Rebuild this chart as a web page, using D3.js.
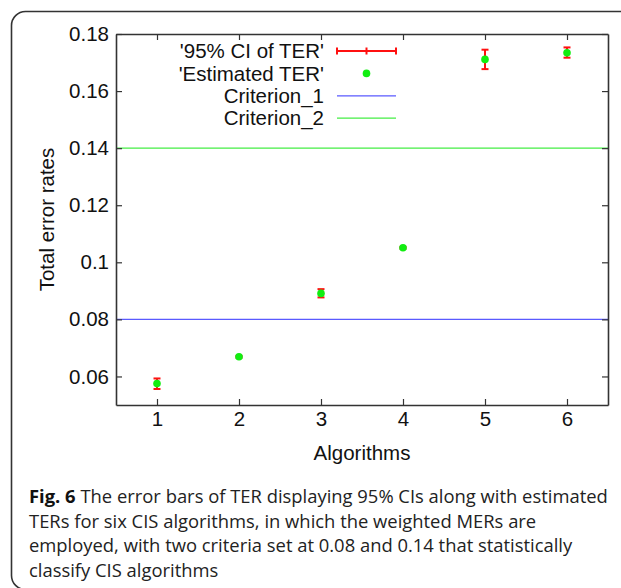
<!DOCTYPE html>
<html>
<head>
<meta charset="utf-8">
<script src="https://cdn.jsdelivr.net/npm/d3@7"></script>
<style>
  body { margin: 0; background: #fff; }
  svg { display: block; }
</style>
</head>
<body>
<svg id="chart" width="621" height="588"></svg>
<script>
// values
const algorithms = [1, 2, 3, 4, 5, 6]
const ter_estimate = [0.0575, 0.0669, 0.0891, 0.1051, 0.1711, 0.1734]
const ci_lower = [0.0556, 0.0666, 0.0877, 0.1048, 0.1677, 0.1717]
const ci_upper = [0.0593, 0.0672, 0.0906, 0.1054, 0.1745, 0.1753]
const criteria_names = ['Criterion_1', 'Criterion_2']
const criteria_values = [0.08, 0.14]
const y_ticks = [0.06, 0.08, 0.1, 0.12, 0.14, 0.16, 0.18]
const caption_lines = [
	'The error bars of TER displaying 95% CIs along with estimated',
	'TERs for six CIS algorithms, in which the weighted MERs are',
	'employed, with two criteria set at 0.08 and 0.14 that statistically',
	'classify CIS algorithms'
]

const margin = {top: 34, right: 13, bottom: 183, left: 116}
const width = 621 - margin.left - margin.right
const height = 588 - margin.top - margin.bottom
const font = '"Liberation Sans", Arial, sans-serif'
const font_size = '20.5px'

const svg_root = d3.select('#chart')

// rounded frame around figure + caption
svg_root.append('rect')
	.attr('x', 11.5).attr('y', 11.5)
	.attr('width', 900).attr('height', 578)
	.attr('rx', 14)
	.attr('fill', 'none')
	.attr('stroke', '#333')
	.attr('stroke-width', 1.6);

const svg = svg_root.append('g').attr('transform', 'translate(' + [margin.left, margin.top] + ')');

const x = d3.scaleLinear().domain([0.5, 6.5]).range([0, width]);
const y = d3.scaleLinear().domain([0.05, 0.18]).range([height, 0]);

// criteria lines
const crit_colors = ['#5a5aff', '#44ee44']
svg.selectAll('.criterion')
	.data(criteria_values)
	.enter().append('line')
	.attr('class', 'criterion')
	.attr('x1', 0).attr('x2', width)
	.attr('y1', d => y(d)).attr('y2', d => y(d))
	.attr('stroke', (d, i) => crit_colors[i])
	.attr('stroke-width', 1.2);

// axes, gnuplot style: inward ticks mirrored on all sides
svg.append('g').attr('class', 'axis')
	.attr('transform', 'translate(0,' + height + ')')
	.call(d3.axisBottom(x).tickValues(algorithms).tickFormat(d3.format('d')).tickSizeInner(-6).tickSizeOuter(0).tickPadding(6));
svg.append('g').attr('class', 'axis')
	.call(d3.axisTop(x).tickValues(algorithms).tickFormat('').tickSizeInner(-6).tickSizeOuter(0));
svg.append('g').attr('class', 'axis')
	.call(d3.axisLeft(y).tickValues(y_ticks).tickFormat(d3.format('')).tickSizeInner(-6).tickSizeOuter(0).tickPadding(7));
svg.append('g').attr('class', 'axis')
	.attr('transform', 'translate(' + width + ',0)')
	.call(d3.axisRight(y).tickValues(y_ticks).tickFormat('').tickSizeInner(-6).tickSizeOuter(0));
svg.selectAll('.axis').attr('font-family', font).attr('font-size', font_size);
svg.selectAll('.axis text').attr('fill', '#111');
svg.selectAll('.axis path').attr('stroke', '#333').attr('stroke-width', 1.6);
svg.selectAll('.axis line').attr('stroke', '#333').attr('stroke-width', 1.2);

// error bars
const bars = svg.selectAll('.errbar')
	.data(algorithms)
	.enter().append('g')
	.attr('class', 'errbar')
	.attr('stroke', '#ff1010')
	.attr('stroke-width', 2);
bars.append('line')
	.attr('x1', d => x(d)).attr('x2', d => x(d))
	.attr('y1', (d, i) => y(ci_lower[i])).attr('y2', (d, i) => y(ci_upper[i]));
bars.append('line')
	.attr('x1', d => x(d) - 3.5).attr('x2', d => x(d) + 3.5)
	.attr('y1', (d, i) => y(ci_lower[i])).attr('y2', (d, i) => y(ci_lower[i]));
bars.append('line')
	.attr('x1', d => x(d) - 3.5).attr('x2', d => x(d) + 3.5)
	.attr('y1', (d, i) => y(ci_upper[i])).attr('y2', (d, i) => y(ci_upper[i]));

// estimated TER points
svg.selectAll('.dot')
	.data(algorithms)
	.enter().append('circle')
	.attr('class', 'dot')
	.attr('cx', d => x(d))
	.attr('cy', (d, i) => y(ter_estimate[i]))
	.attr('r', 3.8)
	.attr('fill', '#11ee11');

// legend
const legend = svg_root.append('g').attr('transform', 'translate(324,51)')
const legend_labels = ["'95% CI of TER'", "'Estimated TER'"].concat(criteria_names)
legend.selectAll('text')
	.data(legend_labels)
	.enter().append('text')
	.attr('x', 0)
	.attr('y', (d, i) => i * 22.4)
	.attr('dy', '0.35em')
	.attr('text-anchor', 'end')
	.style('font-family', font)
	.style('font-size', font_size)
	.attr('fill', '#111')
	.text(d => d);
const ci_key = legend.append('g').attr('stroke', '#ff1010').attr('stroke-width', 2)
ci_key.append('line').attr('x1', 13).attr('x2', 72).attr('y1', 0).attr('y2', 0);
[13, 42.5, 72].forEach(cx => ci_key.append('line').attr('x1', cx).attr('x2', cx).attr('y1', -3.5).attr('y2', 3.5));
legend.append('circle').attr('cx', 42.5).attr('cy', 22.4).attr('r', 3.8).attr('fill', '#11ee11');
legend.selectAll('.crit-key')
	.data(criteria_values)
	.enter().append('line')
	.attr('class', 'crit-key')
	.attr('x1', 13).attr('x2', 72)
	.attr('y1', (d, i) => (i + 2) * 22.4).attr('y2', (d, i) => (i + 2) * 22.4)
	.attr('stroke', (d, i) => crit_colors[i])
	.attr('stroke-width', 1.2);

// axis titles
svg_root.append('text')
	.attr('x', margin.left + width / 2).attr('y', 453)
	.attr('dy', '0.35em')
	.attr('text-anchor', 'middle')
	.style('font-family', font).style('font-size', font_size)
	.attr('fill', '#111')
	.text('Algorithms');
svg_root.append('text')
	.attr('transform', 'translate(47,' + (margin.top + height / 2) + ') rotate(-90)')
	.attr('dy', '0.35em')
	.attr('text-anchor', 'middle')
	.style('font-family', font).style('font-size', font_size)
	.attr('fill', '#111')
	.text('Total error rates');

// caption
const cap = svg_root.append('g')
	.style('font-family', '"Open Sans", "Noto Sans", sans-serif')
	.style('font-size', '18.4px')
	.attr('fill', '#222')
caption_lines.forEach((line, i) => {
	const t = cap.append('text').attr('x', 29).attr('y', 503 + i * 24.7)
	if (i === 0) t.append('tspan').style('font-weight', 'bold').attr('fill', '#111').text('Fig. 6 ')
	t.append('tspan').text(line)
})
</script>
</body>
</html>
